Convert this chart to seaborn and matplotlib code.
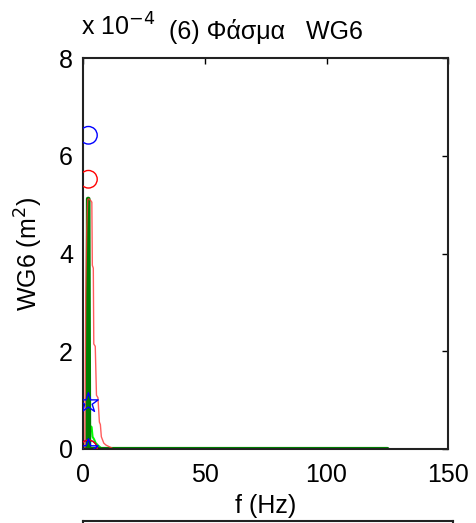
import matplotlib
matplotlib.use("Agg")
import matplotlib.pyplot as plt
import seaborn as sns

# spectrum values are in units of 1e-4 m^2
red_f = [0, 0.8, 1.2, 1.6, 2.0, 2.4, 2.9, 3.3, 3.7, 3.9, 4.3, 4.5, 5.1, 5.6, 6.2, 6.8, 7.2, 7.6, 8.6, 9.5, 11.9, 12.5, 125]
red_v = [0, 0, 3.15, 4.5, 5.1, 5.12, 5.1, 5.08, 5.05, 3.76, 3.7, 2.15, 2.1, 1.1, 1.05, 0.55, 0.5, 0.25, 0.12, 0.08, 0.02, 0.0, 0.0]

green_f = [0, 1.9, 2.1, 2.3, 2.6, 125]
green_v = [0, 0, 5.12, 5.12, 0, 0]

lime_f = [0, 1.9, 2.2, 3.6, 4.0, 4.6, 5.3, 6.5, 7.2, 8.0, 125]
lime_v = [0, 0, 0.5, 0.45, 0.25, 0.2, 0.12, 0.06, 0.03, 0, 0]

peak_f = 2.3
blue_circle = [6.42, 0.0]
red_circle = [5.52, 0.0]
blue_star = [0.94, 0.0]

xticks = [0, 50, 100, 150]
yticks = [0, 2, 4, 6, 8]

sns.set_theme(style="white")
plt.rcParams['font.family'] = ['Liberation Sans', 'DejaVu Sans']
plt.rcParams['text.color'] = 'black'
plt.rcParams['axes.labelcolor'] = 'black'

fig = plt.figure(figsize=(4.76, 5.23), dpi=100)
ax = fig.add_axes([0.174, 0.1415, 0.768, 0.7475])

sns.lineplot(x=lime_f, y=lime_v, ax=ax, color='#00ff00', linewidth=1.5, sort=False, estimator=None)
sns.lineplot(x=green_f, y=green_v, ax=ax, color='#008000', linewidth=3, sort=False, estimator=None)
sns.lineplot(x=red_f, y=red_v, ax=ax, color='#ff3333', linewidth=1, sort=False, estimator=None, alpha=0.8)
# overlapped zero level drawn brownish
sns.lineplot(x=[2.6, 125], y=[0, 0], ax=ax, color='#b8742c', linewidth=1.2, sort=False, estimator=None)

sns.scatterplot(x=[peak_f] * 2, y=blue_circle, ax=ax, marker='o', s=160,
                facecolor='none', edgecolor='blue', linewidth=1, zorder=5)
sns.scatterplot(x=[peak_f] * 2, y=red_circle, ax=ax, marker='o', s=160,
                facecolor='none', edgecolor='red', linewidth=1, zorder=5)
sns.scatterplot(x=[peak_f] * 2, y=blue_star, ax=ax, marker='*', s=220,
                facecolor='none', edgecolor='blue', linewidth=1, zorder=5)

ax.set_xlim(0, 150)
ax.set_ylim(0, 8)
ax.set_xticks(xticks)
ax.set_yticks(yticks)
ax.tick_params(direction='in', length=4, width=1, top=True, right=True,
               labelsize=18, colors='black')
ax.tick_params(axis='x', pad=10)
ax.tick_params(axis='y', pad=7)
for s in ax.spines.values():
    s.set_color('#222222')
    s.set_linewidth(1.5)
ax.set_xlabel('f (Hz)', fontsize=18, labelpad=5)
ax.set_ylabel('WG6 (m$^2$)', fontsize=18, labelpad=10)
ax.set_title('(6) Φάσμα   WG6', fontsize=18, pad=14)
ax.text(-0.005, 1.045, 'x 10$^{-4}$', transform=ax.transAxes, fontsize=18, ha='left', va='bottom')

# top edge of the next subplot, cut off by the figure border
ax2 = fig.add_axes([0.174, -0.5, 0.778, 0.5038])
ax2.set_xticks([])
ax2.set_yticks([])
for s in ax2.spines.values():
    s.set_color('#222222')
    s.set_linewidth(1.5)

fig.savefig('out.png', dpi=100)
